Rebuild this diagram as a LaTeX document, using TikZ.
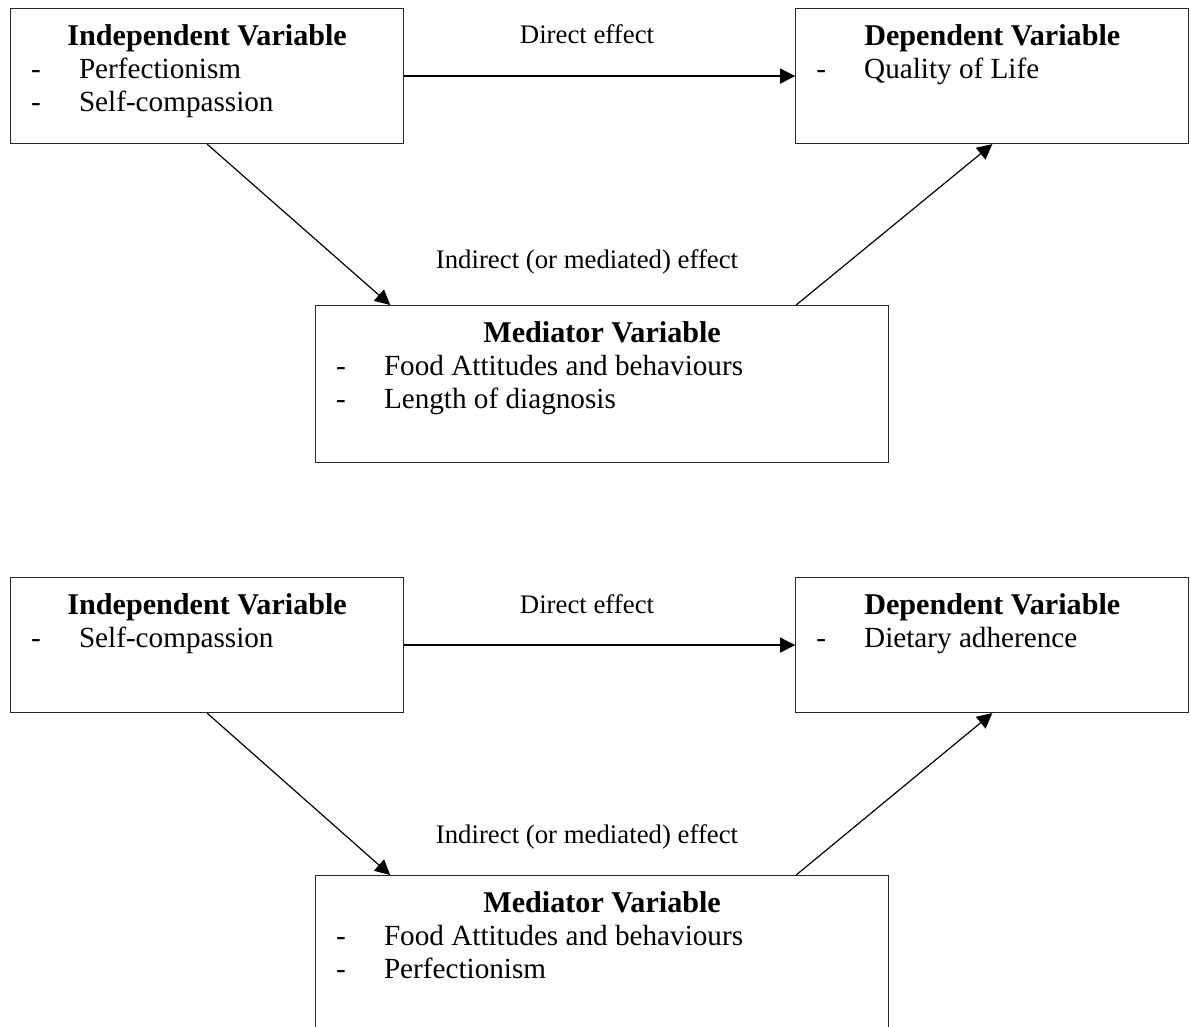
\documentclass[tikz,border=0pt]{standalone}
\usepackage{fontspec}
\setmainfont{Liberation Serif}
\usetikzlibrary{arrows.meta,positioning,calc}
\tikzset{
  varbox/.style ={draw=black!85, line width=0.5pt, inner sep=0pt, anchor=north west,
                  font=\fontsize{12.2pt}{13.8pt}\selectfont},
  lbl/.style    ={font=\fontsize{11.2pt}{13.8pt}\selectfont, inner sep=0pt, anchor=base},
  ar/.style     ={-{Triangle[length=6.3pt,width=6.3pt]}, line width=0.5pt, draw=black},
}
% box contents: heading centred, items with a dash
\newcommand{\vhead}[1]{\rule{0pt}{15.5pt}\makebox[\linewidth]{\fontsize{12.6pt}{13.8pt}\selectfont\textbf{#1}}}
\newcommand{\vitem}[1]{\hspace*{8.6pt}\makebox[20pt][l]{-}#1}
\newcommand{\smallbox}[1]{\parbox[c][56.4pt][t]{164.3pt}{#1}}
\newcommand{\widebox}[1]{\parbox[c][65.6pt][t]{239.5pt}{#1}}

\begin{document}
\begin{tikzpicture}[x=0.418pt, y=-0.418pt]
\useasboundingbox (0,0) rectangle (1191,1026);

% ---- first model ----
\node[varbox] (iv1) at (10,8) {\smallbox{\vhead{Independent Variable}\\
  \vitem{Perfectionism}\\ \vitem{Self-compassion}}};
\node[varbox, right=163.4pt of iv1] (dv1) {\smallbox{\vhead{Dependent Variable}\\
  \vitem{Quality of Life}}};
\node[varbox] (med1) at (315,305) {\widebox{\vhead{Mediator Variable}\\
  \vitem{Food Attitudes and behaviours}\\ \vitem{Length of diagnosis}}};

\node[lbl] (dir1) at (587,43) {Direct effect};
\node[lbl] (ind1) at (587,268) {Indirect (or mediated) effect};

\draw[ar] (iv1.east) -- (dv1.west);
\draw[ar] (iv1.south) -- ($(med1.north west)!0.131!(med1.north east)$);
\draw[ar] ($(med1.north west)!0.838!(med1.north east)$) -- (dv1.south);

% ---- second model ----
\node[varbox] (iv2) at (10,577) {\smallbox{\vhead{Independent Variable}\\
  \vitem{Self-compassion}}};
\node[varbox, right=163.4pt of iv2] (dv2) {\smallbox{\vhead{Dependent Variable}\\
  \vitem{Dietary adherence}}};
\node[varbox] (med2) at (315,875) {\widebox{\vhead{Mediator Variable}\\
  \vitem{Food Attitudes and behaviours}\\ \vitem{Perfectionism}}};

\node[lbl] (dir2) at (587,613) {Direct effect};
\node[lbl] (ind2) at (587,843) {Indirect (or mediated) effect};

\draw[ar] (iv2.east) -- (dv2.west);
\draw[ar] (iv2.south) -- ($(med2.north west)!0.131!(med2.north east)$);
\draw[ar] ($(med2.north west)!0.838!(med2.north east)$) -- (dv2.south);

\end{tikzpicture}
\end{document}
